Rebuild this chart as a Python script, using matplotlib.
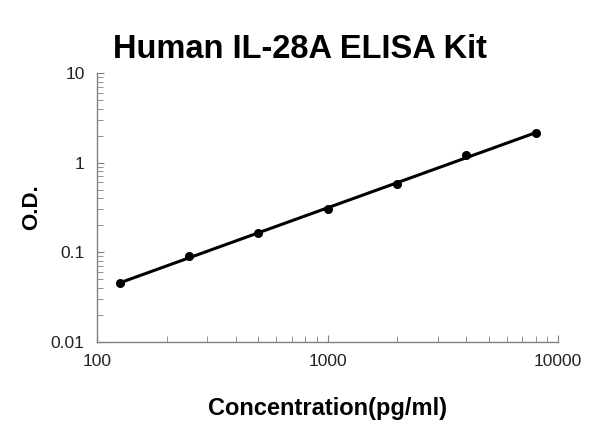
import numpy as np
import matplotlib.pyplot as plt
from matplotlib.ticker import LogLocator, FixedFormatter, FixedLocator

plt.rcParams['font.family'] = ['Liberation Sans', 'DejaVu Sans']

# standard curve data
conc = [125, 250, 500, 1000, 2000, 4000, 8000]
od = [0.0455, 0.090, 0.163, 0.30, 0.57, 1.20, 2.15]

# power trend line fitted in log space
p = np.polyfit(np.log10(conc), np.log10(od), 1)
xfit = np.array([conc[0], conc[-1]])
yfit = 10 ** np.polyval(p, np.log10(xfit))

fig = plt.figure(figsize=(6, 4.47), dpi=100)
ax = fig.add_axes([0.162, 0.235, 0.768, 0.602])

ax.plot(xfit, yfit, color='black', linewidth=2.2, solid_capstyle='round')
ax.plot(conc, od, 'o', color='black', markersize=5.5)

ax.set_xscale('log')
ax.set_yscale('log')
ax.set_xlim(100, 10000)
ax.set_ylim(0.01, 10)

ax.xaxis.set_major_locator(FixedLocator([100, 1000, 10000]))
ax.xaxis.set_major_formatter(FixedFormatter(['100', '1000', '10000']))
ax.yaxis.set_major_locator(FixedLocator([0.01, 0.1, 1, 10]))
ax.yaxis.set_major_formatter(FixedFormatter(['0.01', '0.1', '1', '10']))
ax.xaxis.set_minor_locator(LogLocator(base=10, subs=np.arange(2, 10)))
ax.yaxis.set_minor_locator(LogLocator(base=10, subs=np.arange(2, 10)))

for s in ['top', 'right']:
    ax.spines[s].set_visible(False)
for s in ['left', 'bottom']:
    ax.spines[s].set_color('#808080')
    ax.spines[s].set_linewidth(1.0)

ax.tick_params(which='both', direction='in', color='#808080', labelsize=12.5, labelcolor='#222222')
ax.tick_params(which='major', length=5, pad=9)
ax.tick_params(which='minor', length=4)

ax.set_xlabel('Concentration(pg/ml)', fontsize=17, fontweight='bold', labelpad=20)
ax.set_ylabel('O.D.', fontsize=16, fontweight='bold', labelpad=6)
fig.suptitle('Human IL-28A ELISA Kit', fontsize=23.5, fontweight='bold', x=0.5, y=0.925)

fig.savefig('out.png', dpi=100)
